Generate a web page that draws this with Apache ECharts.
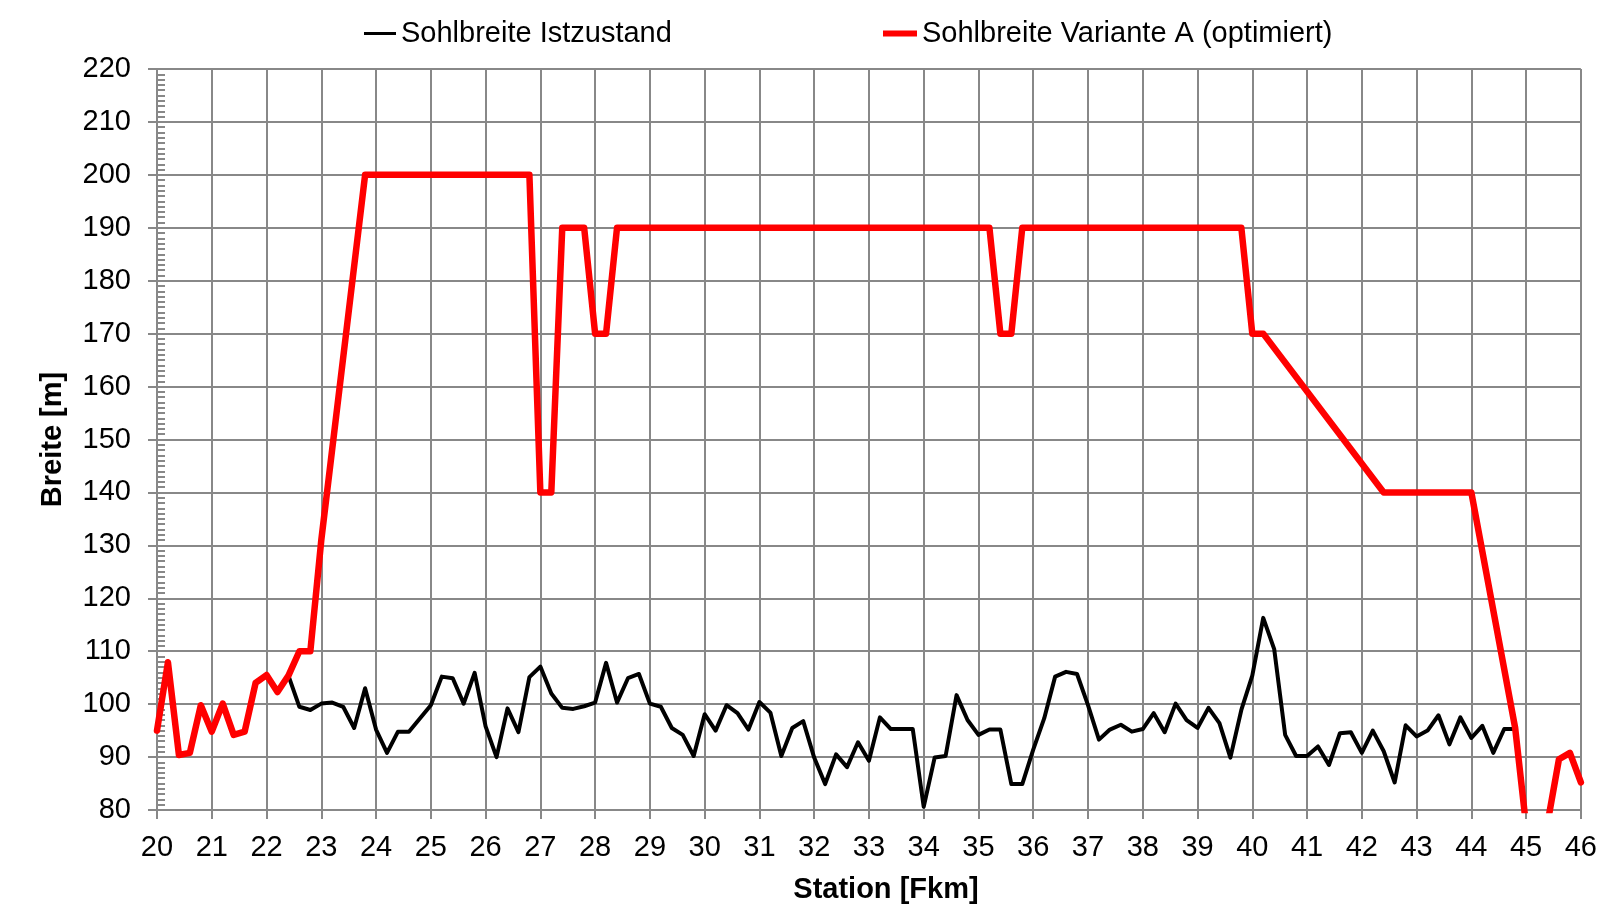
<!DOCTYPE html>
<html>
<head>
<meta charset="utf-8">
<script src="https://cdn.jsdelivr.net/npm/echarts@6/dist/echarts.min.js"></script>
<style>
  html, body { margin: 0; padding: 0; background: #fff; }
  #chart { width: 1600px; height: 909px; }
</style>
</head>
<body>
<div id="chart"></div>
<script>
// Station [Fkm] of the measured profiles (Istzustand)
const station = [
  20.0, 20.2, 20.4, 20.6, 20.8, 21.0, 21.2, 21.4, 21.6, 21.8,
  22.0, 22.2, 22.4, 22.6, 22.8, 23.0, 23.2, 23.4, 23.6, 23.8,
  24.0, 24.2, 24.4, 24.6, 24.8, 25.0, 25.2, 25.4, 25.6, 25.8,
  26.0, 26.2, 26.4, 26.6, 26.8, 27.0, 27.2, 27.4, 27.6, 27.8,
  28.0, 28.2, 28.4, 28.6, 28.8, 29.0, 29.2, 29.4, 29.6, 29.8,
  30.0, 30.2, 30.4, 30.6, 30.8, 31.0, 31.2, 31.4, 31.6, 31.8,
  32.0, 32.2, 32.4, 32.6, 32.8, 33.0, 33.2, 33.4, 33.6, 33.8,
  34.0, 34.2, 34.4, 34.6, 34.8, 35.0, 35.2, 35.4, 35.6, 35.8,
  36.0, 36.2, 36.4, 36.6, 36.8, 37.0, 37.2, 37.4, 37.6, 37.8,
  38.0, 38.2, 38.4, 38.6, 38.8, 39.0, 39.2, 39.4, 39.6, 39.8,
  40.0, 40.2, 40.4, 40.6, 40.8, 41.0, 41.2, 41.4, 41.6, 41.8,
  42.0, 42.2, 42.4, 42.6, 42.8, 43.0, 43.2, 43.4, 43.6, 43.8,
  44.0, 44.2, 44.4, 44.6, 44.8
];

// Sohlbreite Istzustand [m]
const istBreite = [
  95.0, 107.9, 90.4, 90.8, 99.8, 94.8, 100.1, 94.2, 94.8, 104.0,
  105.5, 102.3, 105.4, 99.5, 98.9, 100.1, 100.3, 99.5, 95.5, 103.0,
  95.2, 90.8, 94.8, 94.8, 97.3, 99.8, 105.2, 104.9, 100.1, 105.9,
  95.8, 90.0, 99.2, 94.7, 105.1, 107.1, 102.0, 99.3, 99.1, 99.6,
  100.3, 107.8, 100.3, 104.9, 105.7, 100.1, 99.5, 95.5, 94.2, 90.2,
  98.1, 95.0, 99.8, 98.3, 95.2, 100.4, 98.4, 90.2, 95.5, 96.8,
  89.9, 84.9, 90.5, 88.1, 92.8, 89.3, 97.5, 95.3, 95.3, 95.3,
  80.6, 89.9, 90.2, 101.7, 97.0, 94.2, 95.2, 95.2, 84.9, 84.9,
  91.4, 97.3, 105.2, 106.1, 105.7, 99.8, 93.3, 95.2, 96.1, 94.8,
  95.3, 98.3, 94.7, 100.1, 97.0, 95.5, 99.3, 96.4, 89.9, 98.9,
  105.4, 116.3, 110.4, 94.2, 90.2, 90.2, 92.0, 88.5, 94.5, 94.7,
  90.8, 95.0, 91.1, 85.2, 96.0, 93.9, 95.0, 97.9, 92.4, 97.5,
  93.6, 95.9, 90.8, 95.3, 95.3
];

// Sohlbreite Variante A (optimiert): stations and widths at the vertices
const varianteStation = [
  20.0, 20.2, 20.4, 20.6, 20.8, 21.0, 21.2, 21.4, 21.6, 21.8,
  22.0, 22.2, 22.4, 22.6, 22.8, 23.0, 23.8, 26.8, 27.0, 27.2,
  27.4, 27.8, 28.0, 28.2, 28.4, 35.2, 35.4, 35.6, 35.8, 39.8,
  40.0, 40.2, 42.4, 44.0, 44.8, 45.0, 45.2, 45.4, 45.6, 45.8,
  46.0
];
const varianteBreite = [
  95.0, 107.9, 90.4, 90.8, 99.8, 94.8, 100.1, 94.2, 94.8, 104.0,
  105.5, 102.3, 105.4, 110, 110, 131, 200, 200, 140, 140,
  190, 190, 170, 170, 190, 190, 170, 170, 190, 190,
  170, 170, 140, 140, 95.5, 77, 76, 78, 89.6, 90.8,
  85.2
];

const yTicks = { min: 80, max: 220, step: 10 };
const xTicks = { min: 20, max: 46, step: 1 };

const chart = echarts.init(document.getElementById("chart"));

const colors = {
  ist: "#000000",
  variante: "#ff0000",
  grid: "#888888",
  text: "#000000",
};
const font = "'Liberation Sans', Arial, sans-serif";

const option = {
  backgroundColor: "#ffffff",
  animation: false,
  grid: {
    left: 157,
    right: 13,
    top: 69,
    bottom: 94,
  },
  legend: [
    {
      data: ["Sohlbreite Istzustand"],
      left: 359,
      top: 14,
      icon: "rect",
      itemWidth: 32,
      itemHeight: 3,
      textStyle: { color: colors.text, fontFamily: font, fontSize: 29 },
    },
    {
      data: ["Sohlbreite Variante A (optimiert)"],
      left: 878,
      top: 14,
      icon: "rect",
      itemWidth: 34,
      itemHeight: 6,
      textStyle: { color: colors.text, fontFamily: font, fontSize: 29 },
    },
  ],
  xAxis: {
    type: "value",
    min: xTicks.min,
    max: xTicks.max,
    interval: xTicks.step,
    name: "Station [Fkm]",
    nameLocation: "middle",
    nameGap: 65,
    nameTextStyle: {
      color: colors.text,
      fontFamily: font,
      fontSize: 29,
      fontWeight: "bold",
      padding: [0, 0, 0, 34],
    },
    axisLine: { lineStyle: { color: colors.grid, width: 2 } },
    axisTick: { show: true, length: 9, lineStyle: { color: colors.grid, width: 2 } },
    axisLabel: { color: colors.text, fontFamily: font, fontSize: 29, margin: 23 },
    splitLine: { show: true, lineStyle: { color: colors.grid, width: 2 } },
  },
  yAxis: [
    {
      type: "value",
      min: yTicks.min,
      max: yTicks.max,
      interval: yTicks.step,
      name: "Breite [m]",
      nameLocation: "middle",
      nameRotate: 90,
      nameGap: 90,
      nameTextStyle: {
        color: colors.text,
        fontFamily: font,
        fontSize: 29,
        fontWeight: "bold",
      },
      axisLine: { show: true, lineStyle: { color: colors.grid, width: 2 } },
      axisTick: { show: true, length: 9, lineStyle: { color: colors.grid, width: 2 } },
      axisLabel: { color: colors.text, fontFamily: font, fontSize: 29, margin: 26 },
      splitLine: { show: true, lineStyle: { color: colors.grid, width: 2 } },
    },
    {
      // minor ticks (1 m) drawn inside the plot
      type: "value",
      min: yTicks.min,
      max: yTicks.max,
      interval: 1,
      position: "left",
      axisLine: { show: false },
      axisTick: { show: true, inside: true, length: 8, lineStyle: { color: colors.grid, width: 2 } },
      axisLabel: { show: false },
      splitLine: { show: false },
    },
  ],
  series: [
    {
      name: "Sohlbreite Istzustand",
      type: "line",
      data: station.map((s, i) => [s, istBreite[i]]),
      symbol: "none",
      color: colors.ist,
      lineStyle: { color: colors.ist, width: 4, join: "round", cap: "round" },
      z: 3,
    },
    {
      name: "Sohlbreite Variante A (optimiert)",
      type: "line",
      data: varianteStation.map((s, i) => [s, varianteBreite[i]]),
      symbol: "none",
      clip: true,
      color: colors.variante,
      lineStyle: { color: colors.variante, width: 6.5, join: "round", cap: "round" },
      z: 4,
    },
  ],
};

chart.setOption(option);
</script>
</body>
</html>
